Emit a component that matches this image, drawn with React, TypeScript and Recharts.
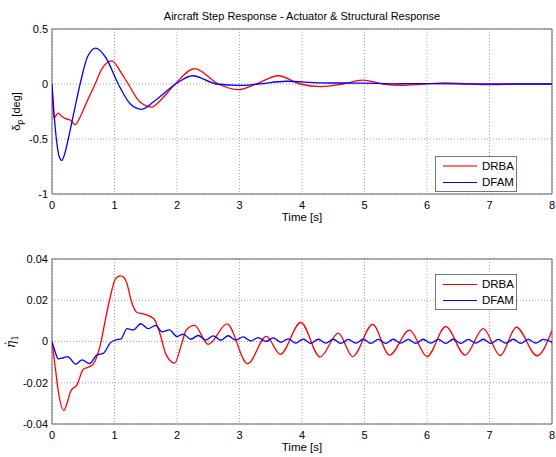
import React from "react";
import {
  LineChart,
  Line,
  XAxis,
  YAxis,
  CartesianGrid,
  ReferenceArea,
} from "recharts";

// time axis shared by both panels
const timeTicks = [0, 1, 2, 3, 4, 5, 6, 7, 8];
const deflTicks = [-1, -0.5, 0, 0.5];
const etaTicks = [-0.04, -0.02, 0, 0.02, 0.04];

// actuator deflection delta_p [deg]
const deflDrbaT = [0, 0.015, 0.03, 0.06, 0.1, 0.15, 0.22, 0.3, 0.37, 0.45, 0.55, 0.69, 0.8, 0.96, 1.09, 1.22, 1.4, 1.59, 1.75, 1.97, 2.28, 2.66, 2.98, 3.27, 3.62, 3.97, 4.31, 4.65, 4.97, 5.3, 5.6, 5.95, 6.3, 6.65, 7.0, 7.4, 7.7, 8.0];
const deflDrbaV = [0, -0.2, -0.31, -0.29, -0.265, -0.29, -0.315, -0.33, -0.37, -0.3, -0.17, 0, 0.14, 0.21, 0.118, 0, -0.16, -0.21, -0.14, 0, 0.14, 0, -0.052, 0, 0.075, 0, -0.023, 0, 0.035, 0, -0.012, 0, 0.01, 0, -0.006, 0, 0.002, 0];

const deflDfamT = [0, 0.03, 0.07, 0.11, 0.155, 0.2, 0.26, 0.35, 0.45, 0.57, 0.7, 0.85, 1.06, 1.25, 1.435, 1.65, 1.98, 2.25, 2.63, 3.0, 3.3, 3.75, 4.3, 5.0, 5.5, 6.0, 7.0, 8.0];
const deflDfamV = [0, -0.25, -0.5, -0.65, -0.695, -0.64, -0.5, -0.26, 0, 0.25, 0.327, 0.25, 0, -0.18, -0.23, -0.15, 0, 0.075, 0, -0.013, 0, 0.025, 0.01, 0.008, 0.002, 0.004, 0, 0];

// first structural mode rate eta_1 dot
const etaDrbaT = [0, 0.05, 0.1, 0.19, 0.25, 0.3, 0.4, 0.5, 0.58, 0.66, 0.77, 0.87, 0.95, 1.01, 1.09, 1.15, 1.2, 1.27, 1.35, 1.5, 1.63, 1.73, 1.82, 1.96, 2.07, 2.15, 2.28, 2.5, 2.8, 3.13, 3.43, 3.65, 3.98, 4.29, 4.58, 4.81, 5.13, 5.4, 5.72, 6.0, 6.3, 6.61, 6.9, 7.17, 7.43, 7.76, 8.0];
const etaDrbaV = [0, -0.012, -0.024, -0.0334, -0.029, -0.024, -0.021, -0.0135, -0.0125, -0.011, -0.002, 0.013, 0.024, 0.03, 0.0318, 0.031, 0.028, 0.0195, 0.0143, 0.013, 0.011, 0.0035, -0.006, -0.0105, -0.0016, 0.0057, 0.0078, -0.0014, 0.0085, -0.0108, 0.0025, -0.0062, 0.0092, -0.0075, 0.0041, -0.0073, 0.0083, -0.0066, 0.0055, -0.0073, 0.0072, -0.0066, 0.0062, -0.0068, 0.0069, -0.0069, 0.0053];

const etaDfamT = [0, 0.05, 0.1, 0.17, 0.25, 0.38, 0.48, 0.6, 0.72, 0.82, 0.93, 1.02, 1.1, 1.2, 1.3, 1.42, 1.54, 1.66, 1.76, 1.88, 2.0, 2.1, 2.22, 2.34, 2.46, 2.58, 2.7, 2.82, 2.94, 3.06, 3.18, 3.3, 3.42, 3.54, 3.66, 3.78, 3.9, 4.02, 4.14, 4.26, 4.38, 4.5, 4.62, 4.74, 4.86, 4.98, 5.1, 5.22, 5.34, 5.46, 5.58, 5.7, 5.82, 5.94, 6.06, 6.18, 6.3, 6.42, 6.54, 6.66, 6.78, 6.9, 7.02, 7.14, 7.26, 7.38, 7.5, 7.62, 7.74, 7.86, 8.0];
const etaDfamV = [0, -0.005, -0.0084, -0.008, -0.0073, -0.011, -0.0089, -0.0107, -0.0065, -0.0058, -0.0008, 0.0008, 0.0012, 0.0062, 0.0056, 0.0086, 0.0062, 0.0078, 0.0047, 0.0056, 0.0024, 0.0036, 0.0011, 0.0029, 0.0007, 0.0027, 0.0006, 0.0028, 0.0007, 0.0022, 0.0003, 0.0019, 0.0, 0.0018, -0.0004, 0.0013, -0.0008, 0.0012, -0.0009, 0.0011, -0.0008, 0.0011, -0.0009, 0.001, -0.0008, 0.0011, -0.0009, 0.001, -0.0009, 0.0011, -0.0008, 0.001, -0.0009, 0.0011, -0.0008, 0.001, -0.0009, 0.0011, -0.0009, 0.001, -0.0008, 0.0011, -0.0009, 0.001, -0.0008, 0.0011, -0.0009, 0.001, -0.0008, 0.0010, -0.0004];

const zip = (ts: number[], vs: number[]) => ts.map((t, i) => ({ t, v: vs[i] }));

const FONT = "'Liberation Sans', Arial, sans-serif";
const RED = "#ff0000";
const BLUE = "#0000ff";
const tickStyle = { fontSize: 11, fill: "#000", fontFamily: FONT };

function LegendBox({ top, redSwatch }: { top: number; redSwatch: { color: string; width: number } }) {
  const row = (color: string, width: number, label: string) => (
    <div style={{ display: "flex", alignItems: "center", height: 16 }}>
      <div style={{ width: 34, height: 0, borderTop: `${width}px solid ${color}`, marginLeft: 7, marginRight: 5 }} />
      <span>{label}</span>
    </div>
  );
  return (
    <div
      style={{
        position: "absolute",
        left: 435,
        top,
        width: 82,
        height: 36,
        border: "1px solid #777",
        background: "#fff",
        fontFamily: FONT,
        fontSize: 11.5,
        paddingTop: 1,
        boxSizing: "border-box",
      }}
    >
      {row(redSwatch.color, redSwatch.width, "DRBA")}
      {row(BLUE, 1.3, "DFAM")}
    </div>
  );
}

const timeLabel = {
  content: () => (
    <text x={302} y={221} textAnchor="middle" fontSize={11.5} fontFamily={FONT} fill="#000">
      Time [s]
    </text>
  ),
};

function Panel({
  height,
  domain,
  ticks,
  fmt,
  yLabel,
  red,
  blue,
}: {
  height: number;
  domain: [number, number];
  ticks: number[];
  fmt: (v: number) => string;
  yLabel: React.ReactNode;
  red: { t: number; v: number }[];
  blue: { t: number; v: number }[];
}) {
  return (
    <LineChart width={556} height={height} margin={{ top: 29, right: 4, left: 12, bottom: height - 194 - 25 }}>
      <CartesianGrid stroke="#a0a0a0" strokeDasharray="1 2" />
      <XAxis
        dataKey="t"
        type="number"
        domain={[0, 8]}
        ticks={timeTicks}
        allowDataOverflow
        axisLine={false}
        tickLine={false}
        tickSize={5}
        tickMargin={2}
        height={25}
        tick={tickStyle}
        label={timeLabel}
      />
      <YAxis
        type="number"
        domain={domain}
        ticks={ticks}
        allowDataOverflow
        axisLine={false}
        tickLine={false}
        tickSize={2}
        tickMargin={2}
        width={40}
        tick={tickStyle}
        tickFormatter={fmt}
        label={{ content: () => yLabel }}
      />
      <ReferenceArea x1={0} x2={8} y1={domain[0]} y2={domain[1]} fill="none" stroke="#666" strokeWidth={1} />
      <Line data={red} dataKey="v" type="monotone" stroke={RED} strokeWidth={1.3} dot={false} isAnimationActive={false} />
      <Line data={blue} dataKey="v" type="monotone" stroke={BLUE} strokeWidth={1.3} dot={false} isAnimationActive={false} />
    </LineChart>
  );
}

export default function App() {
  const deflLabel = (
    <text transform="translate(19.5,111.5) rotate(-90)" textAnchor="middle" fontSize={11} fontFamily={FONT} fill="#000">
      δ
      <tspan fontSize={9} dy={3}>p</tspan>
      <tspan dy={-3}> [deg]</tspan>
    </text>
  );
  const etaLabel = (
    <text transform="translate(15,111.5) rotate(-90)" textAnchor="middle" fontSize={12} fontFamily="'DejaVu Serif', serif" fontStyle="italic" fill="#000">
      η̇
      <tspan fontSize={9} dy={3} fontStyle="normal">1</tspan>
    </text>
  );

  return (
    <div style={{ position: "absolute", left: 0, top: 0, width: 556, height: 457, background: "#fff", overflow: "hidden" }}>
      <div
        style={{
          position: "absolute",
          left: 52,
          width: 500,
          top: 10,
          textAlign: "center",
          fontFamily: FONT,
          fontSize: 11,
          color: "#000",
        }}
      >
        Aircraft Step Response - Actuator &amp; Structural Response
      </div>
      <div style={{ position: "absolute", left: 0, top: 0 }}>
        <Panel
          height={230}
          domain={[-1, 0.5]}
          ticks={deflTicks}
          fmt={(v) => String(v)}
          yLabel={deflLabel}
          red={zip(deflDrbaT, deflDrbaV)}
          blue={zip(deflDfamT, deflDfamV)}
        />
      </div>
      <div style={{ position: "absolute", left: 0, top: 230 }}>
        <Panel
          height={227}
          domain={[-0.04, 0.04]}
          ticks={etaTicks}
          fmt={(v) => (v === 0 ? "0" : v.toFixed(2))}
          yLabel={etaLabel}
          red={zip(etaDrbaT, etaDrbaV)}
          blue={zip(etaDfamT, etaDfamV)}
        />
      </div>
      <LegendBox top={156} redSwatch={{ color: "#ff7070", width: 2 }} />
      <LegendBox top={274} redSwatch={{ color: RED, width: 1.3 }} />
    </div>
  );
}
